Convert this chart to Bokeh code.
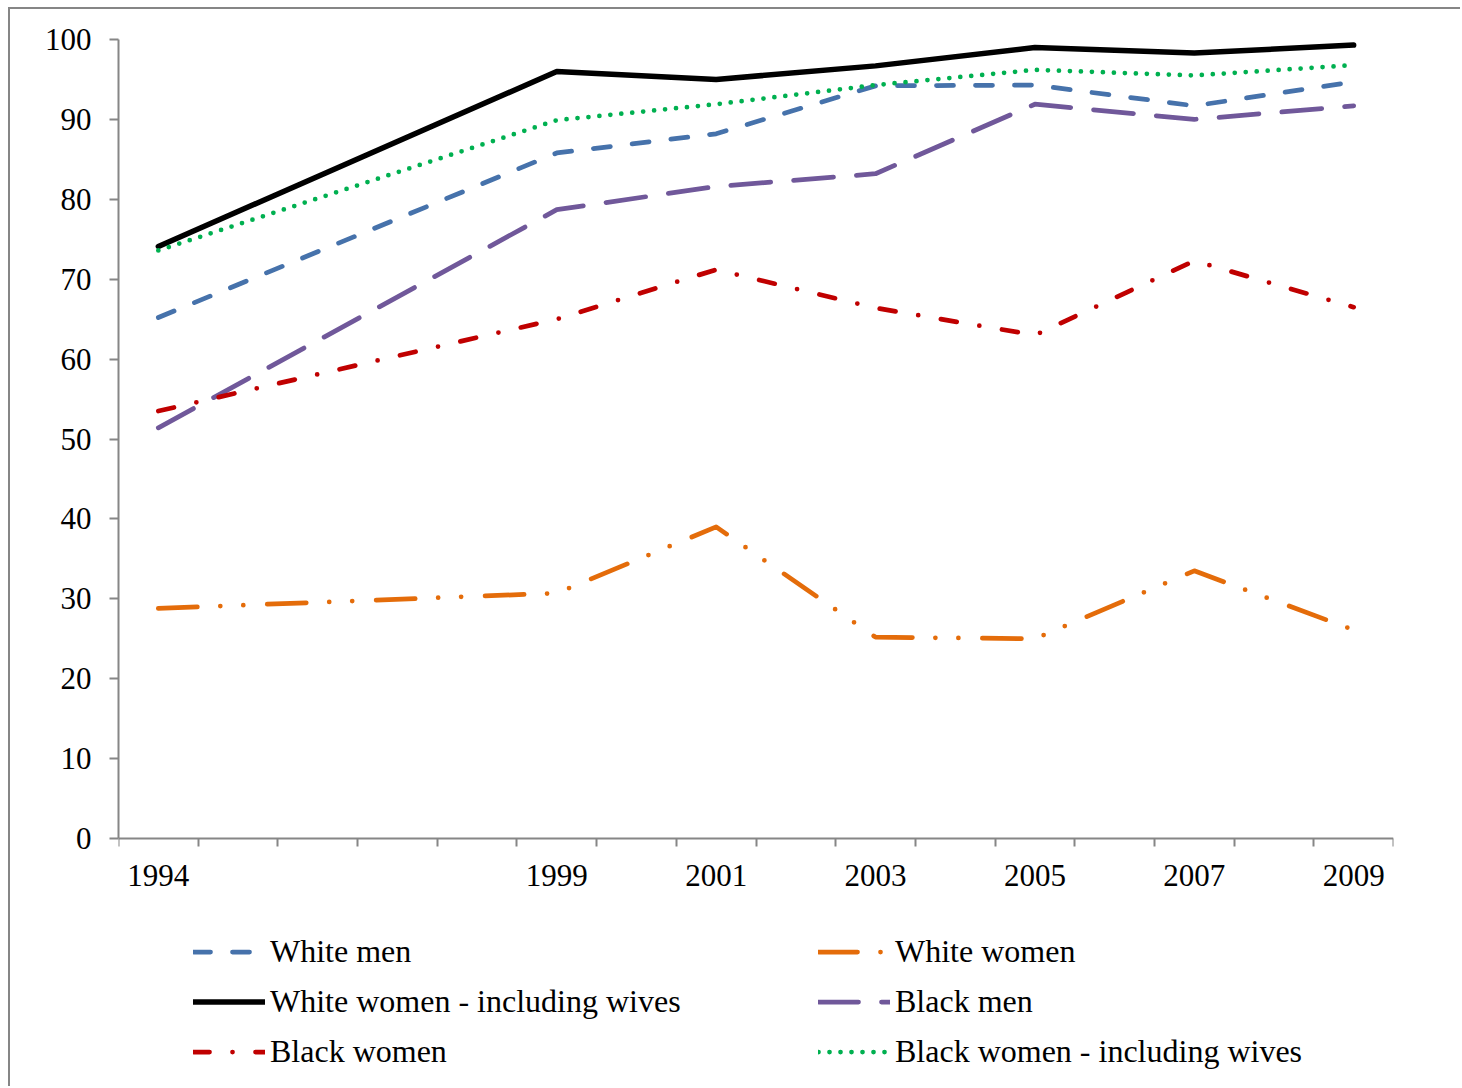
from bokeh.plotting import figure
from bokeh.models import Range1d, FixedTicker, Legend, LegendItem
from bokeh.embed import file_html
from bokeh.resources import INLINE

# Survey years with data
years = [1994, 1999, 2001, 2003, 2005, 2007, 2009]

# Series values (percent)
white_men = [65.2, 85.8, 88.2, 94.2, 94.3, 91.7, 94.7]
white_women = [28.8, 30.7, 39.0, 25.2, 25.0, 33.5, 26.1]
white_women_wives = [74.1, 96.0, 95.0, 96.7, 99.0, 98.3, 99.3]
black_men = [51.4, 78.7, 81.6, 83.2, 91.9, 90.0, 91.7]
black_women = [53.5, 65.0, 71.2, 66.4, 63.0, 72.3, 66.5]
black_women_wives = [73.6, 89.9, 91.9, 94.3, 96.2, 95.5, 96.8]

# Category axis: one slot per year, labels only on survey years
first_year, last_year = 1994, 2009
y_ticks = list(range(0, 101, 10))

FONT = "Liberation Serif"
AXIS_GREY = "#868686"

# The frame runs down to the bottom of the canvas so that the legend,
# which sits under the x axis, is drawn inside it; the value axis only
# covers 0-100 and the category axis is pinned at y = 0.
CANVAS_H = 1079
TOP_BORDER = 30
PX_PER_UNIT = 7.99
y_floor = 100 - (CANVAS_H - TOP_BORDER) / PX_PER_UNIT

p = figure(
    width=1452, height=CANVAS_H,
    output_backend="svg", toolbar_location=None,
    x_range=Range1d(first_year - 0.5, last_year + 0.5),
    y_range=Range1d(y_floor, 100),
    min_border_left=108, min_border_right=69,
    min_border_top=TOP_BORDER, min_border_bottom=0,
)
p.styles = {
    "margin-left": "8px", "margin-top": "7px",
    "border-left": "2px solid #868686", "border-top": "2px solid #868686",
}
p.outline_line_color = None
p.xgrid.visible = False
p.ygrid.visible = False
p.background_fill_color = "white"
p.border_fill_color = "white"

# x axis: ticks at slot boundaries, labels at slot centres
p.xaxis.fixed_location = 0
p.xaxis.ticker = FixedTicker(
    ticks=years,
    minor_ticks=[y - 0.5 for y in range(first_year, last_year + 2)],
)
p.xaxis.major_tick_in = 0
p.xaxis.major_tick_out = 0
p.xaxis.minor_tick_in = 0
p.xaxis.minor_tick_out = 8
p.xaxis.minor_tick_line_color = AXIS_GREY
p.xaxis.minor_tick_line_width = 2
p.xaxis.major_label_standoff = 18

p.yaxis.bounds = (0, 100)
p.yaxis.ticker = FixedTicker(ticks=y_ticks)
p.yaxis.major_tick_in = 0
p.yaxis.major_tick_out = 9
p.yaxis.minor_tick_out = 0
p.yaxis.major_tick_line_color = AXIS_GREY
p.yaxis.major_tick_line_width = 2
p.yaxis.major_label_standoff = 18

for ax in (p.xaxis, p.yaxis):
    ax.axis_line_color = AXIS_GREY
    ax.axis_line_width = 2
    ax.major_label_text_font = FONT
    ax.major_label_text_font_size = "31px"
    ax.major_label_text_color = "black"

common = dict(line_width=4.75, line_cap="round", line_join="round")

r_wm = p.line(years, white_men, line_color="#4672AB", line_dash="17 22", **common)
r_ww = p.line(years, white_women, line_color="#E46C0A", line_dash="39 23 0 23 0 24", **common)
r_www = p.line(years, white_women_wives, line_color="black", line_width=5.5,
               line_cap="round", line_join="round")
r_bm = p.line(years, black_men, line_color="#70589A", line_dash="40 23", **common)
r_bw = p.line(years, black_women, line_color="#C00000", line_dash="16 23 0 23", **common)
r_bww = p.line(years, black_women_wives, line_color="#00B050", line_dash="0 11", **common)

legend_style = dict(
    orientation="vertical",
    glyph_width=72, glyph_height=35, label_height=35,
    label_standoff=5, spacing=13, padding=0, margin=0,
    label_text_font=FONT, label_text_font_size="32px", label_text_color="black",
    border_line_color=None, background_fill_alpha=0,
)

legend_left = Legend(
    items=[
        LegendItem(label="White men", renderers=[r_wm]),
        LegendItem(label="White women - including wives", renderers=[r_www]),
        LegendItem(label="Black women", renderers=[r_bw]),
    ],
    location=(75, 18), **legend_style,
)
legend_right = Legend(
    items=[
        LegendItem(label="White women", renderers=[r_ww]),
        LegendItem(label="Black men", renderers=[r_bm]),
        LegendItem(label="Black women - including wives", renderers=[r_bww]),
    ],
    location=(700, 18), **legend_style,
)
p.add_layout(legend_left)
p.add_layout(legend_right)

open("out.html", "w").write(file_html(p, INLINE))
